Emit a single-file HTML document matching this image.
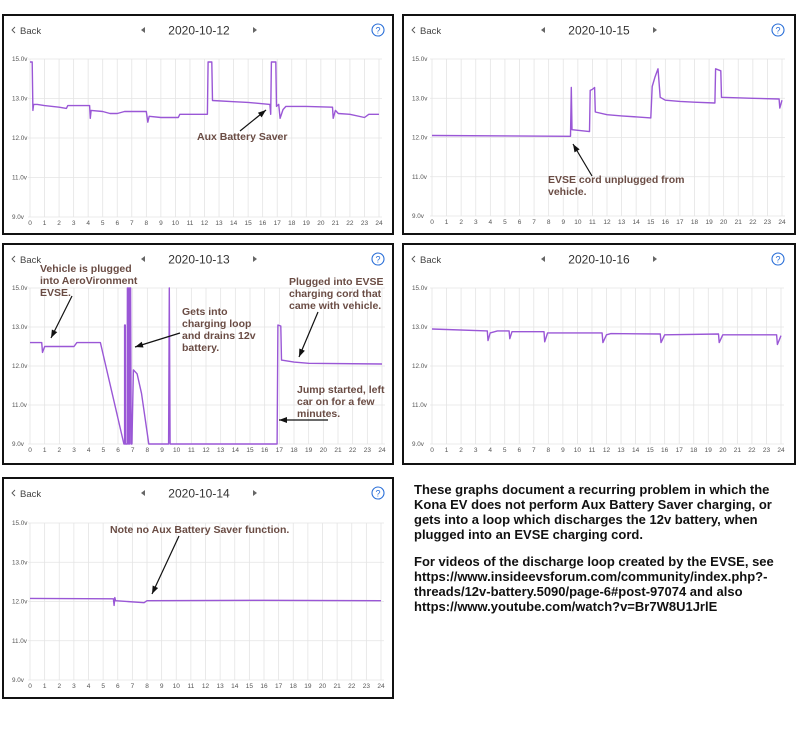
<!DOCTYPE html>
<html><head><meta charset="utf-8"><style>
html,body{margin:0;padding:0;background:#fff;width:800px;height:729px;overflow:hidden;font-family:"Liberation Sans",sans-serif}
#note{position:absolute;left:414px;top:482px;width:386px;font-weight:bold;font-size:13px;line-height:15px;color:#111;white-space:nowrap}
#note p{margin:0 0 12px 0}
</style></head><body>
<svg id="s" width="800" height="729" style="position:absolute;left:0;top:0"></svg>
<div id="note">
<p>These graphs document a recurring problem in which the<br>Kona EV does not perform Aux Battery Saver charging, or<br>gets into a loop which discharges the 12v battery, when<br>plugged into an EVSE charging cord.</p>
<p>For videos of the discharge loop created by the EVSE, see<br>https://www.insideevsforum.com/community/index.php?-<br>threads/12v-battery.5090/page-6#post-97074 and also<br>https://www.youtube.com/watch?v=Br7W8U1JrlE</p>
</div>
<script>
const yTicks=["15.0v","13.0v","12.0v","11.0v","9.0v"];
const yTickVals=[15,13,12,11,9];
const xTicks=[0,1,2,3,4,5,6,7,8,9,10,11,12,13,14,15,16,17,18,19,20,21,22,23,24];
const dates=["2020-10-12","2020-10-15","2020-10-13","2020-10-16","2020-10-14"];
const p1Hours=[0,0.15,0.2,0.25,0.5,1,2,2.5,2.6,4.1,4.15,4.2,5,5.5,6,6.5,8,8.1,8.2,9,10.2,10.3,12.2,12.25,12.5,12.55,14,15,16.5,16.55,16.6,16.9,16.95,17.1,17.2,17.4,17.6,19,20.8,20.85,21,21.2,22,23,23.3,24];
const p1Volts=[14.85,14.85,12.7,12.85,12.85,12.82,12.78,12.75,12.82,12.82,12.5,12.7,12.67,12.62,12.62,12.67,12.67,12.4,12.55,12.52,12.52,12.6,12.6,14.85,14.85,12.95,12.92,12.9,12.85,12.6,14.85,14.85,12.8,12.85,12.5,12.72,12.8,12.8,12.78,12.5,12.7,12.62,12.6,12.52,12.6,12.6];
const p2Hours=[0,9.5,9.55,9.6,10.8,10.85,11.0,11.15,11.2,12,13,15,15.1,15.3,15.5,15.65,16,17,18,19.4,19.45,19.8,19.85,22,23.8,23.85,24];
const p2Volts=[12.05,12.03,13.55,12.2,12.15,13.4,13.45,13.55,12.65,12.58,12.55,12.5,13.6,14.1,14.5,13.05,12.95,12.92,12.9,12.88,14.5,14.4,13.05,13.0,12.98,12.75,12.95];
const p3Hours=[0,0.8,0.85,1,3,3.2,4.8,6.4,6.45,6.45,6.5,6.5,6.62,6.64,6.68,6.7,6.74,6.76,6.8,6.82,6.86,6.9,6.95,7.05,7.3,7.6,8.1,9.45,9.5,9.55,16.85,16.9,17.1,17.15,18,19,24];
const p3Volts=[12.6,12.6,12.35,12.5,12.5,12.6,12.6,9,9,13.1,13.1,9,9,15,9,15,9,15,9,15,15,9,9,11.9,11.8,11.3,9,9,15,9,9,13.1,13.05,12.15,12.1,12.07,12.05];
const p4Hours=[0,3.8,3.85,4,4.5,5.3,5.35,5.5,7.7,7.75,7.95,11.7,11.75,12,12.3,15.7,15.75,16,19.7,19.75,20,23.7,23.75,24];
const p4Volts=[12.95,12.9,12.65,12.85,12.9,12.9,12.7,12.88,12.88,12.62,12.85,12.85,12.6,12.8,12.83,12.82,12.6,12.8,12.82,12.6,12.8,12.8,12.55,12.78];
const p5Hours=[0,5.7,5.75,5.8,5.85,7.8,8,16,24];
const p5Volts=[12.08,12.07,11.9,12.1,12.02,11.97,12.02,12.03,12.02];

const NS="http://www.w3.org/2000/svg";
const svg=document.getElementById('s');
function mk(tag,attrs,parent,text){const e=document.createElementNS(NS,tag);for(const k in attrs)e.setAttribute(k,attrs[k]);if(text!==undefined)e.textContent=text;(parent||svg).appendChild(e);return e;}
const panels=[
 {box:[3,15,390,219],x0:30,x1:379,y0:59,y1:217,h:p1Hours,v:p1Volts},
 {box:[403,15,392,219],x0:432,x1:782,y0:59,y1:216,h:p2Hours,v:p2Volts},
 {box:[3,244,390,220],x0:30,x1:382,y0:288,y1:444,h:p3Hours,v:p3Volts},
 {box:[403,244,392,220],x0:432,x1:781,y0:288,y1:444,h:p4Hours,v:p4Volts},
 {box:[3,478,390,220],x0:30,x1:381,y0:523,y1:680,h:p5Hours,v:p5Volts}
];
function yIndex(v){for(let i=0;i<yTickVals.length-1;i++){const a=yTickVals[i],b=yTickVals[i+1];if(v<=a&&v>=b)return i+(a-v)/(a-b);}return v>15?0:4;}
panels.forEach((p,pi)=>{
 const g=mk('g',{});
 
 
 const [bx,by,bw,bh]=p.box;
 const r=mk('rect',{x:bx,y:by,width:bw,height:bh,fill:'#fff',stroke:'#111','stroke-width':2},g);
 
 const hy=by+15;
 const back=mk('text',{x:bx+17,y:hy+4,'font-size':9.5,fill:'#444'},g,'Back');
 
 mk('path',{d:`M${bx+12} ${hy-3} L${bx+9} ${hy} L${bx+12} ${hy+3}`,fill:'none',stroke:'#555','stroke-width':0.9},g);
 const cx=bx+194;
 const prev=mk('path',{d:`M${cx-52} ${hy-3} L${cx-56} ${hy} L${cx-52} ${hy+3}Z`,fill:'#666'},g);
 
 const next=mk('path',{d:`M${cx+56} ${hy-3} L${cx+60} ${hy} L${cx+56} ${hy+3}Z`,fill:'#666'},g);
 
 const t=mk('text',{x:cx+2,y:hy+4.5,'font-size':12,fill:'#333','text-anchor':'middle'},g,dates[pi]);
 
 const hc=mk('circle',{cx:bx+375,cy:hy,r:6,fill:'none',stroke:'#2a6fd8','stroke-width':1.1},g);
 
 mk('text',{x:bx+375,y:hy+3.5,'font-size':9,fill:'#2a6fd8','text-anchor':'middle'},g,'?');
 const xs=h=>p.x0+(p.x1-p.x0)*h/24;
 const ys=v=>p.y0+(p.y1-p.y0)*yIndex(v)/4;
 xTicks.forEach(h=>{
  const l=mk('line',{x1:xs(h),x2:xs(h),y1:p.y0,y2:p.y1,stroke:'#e4e4e4','stroke-width':0.8},g);
  
  const tl=mk('text',{x:xs(h),y:p.y1+8,'font-size':6.5,fill:'#555','text-anchor':'middle'},g,String(h));
  
 });
 yTickVals.forEach((v,i)=>{
  const l=mk('line',{x1:p.x0-2,x2:p.x1+3,y1:ys(v),y2:ys(v),stroke:'#e4e4e4','stroke-width':0.8},g);
  
  const tl=mk('text',{x:bx+9,y:ys(v)+2,'font-size':6.3,fill:'#555'},g,yTicks[i]);
  
 });
 const d=p.h.map((h,i)=>(i?'L':'M')+xs(h).toFixed(1)+' '+ys(p.v[i]).toFixed(1)).join(' ');
 const line=mk('path',{d:d,fill:'none',stroke:'#9a57d6','stroke-width':1.4,'stroke-linejoin':'round'},g);
 
});
const ann=[
 [197,140,["Aux Battery Saver"],[240,131,266,110]],
 [548,183,["EVSE cord unplugged from","vehicle."],[592,176,573,144]],
 [40,272,["Vehicle is plugged","into AeroVironment","EVSE."],[72,296,51,338]],
 [182,315,["Gets into","charging loop","and drains 12v","battery."],[180,333,135,347]],
 [289,285,["Plugged into EVSE","charging cord that","came with vehicle."],[318,312,299,357]],
 [297,393,["Jump started, left","car on for a few","minutes."],[328,420,279,420]],
 [110,533,["Note no Aux Battery Saver function."],[179,536,152,594]]
];
ann.forEach(a=>{
 const g=mk('g',{});
 
 
 a[2].forEach((s,i)=>mk('text',{x:a[0],y:a[1]+i*12,'font-size':10.5,'font-weight':'bold',fill:'#6a4c44'},g,s));
 const [x1,y1,x2,y2]=a[3];
 mk('line',{x1:x1,y1:y1,x2:x2,y2:y2,stroke:'#111','stroke-width':1.2},g);
 const ang=Math.atan2(y2-y1,x2-x1),L=8,W=3;
 const bxp=x2-L*Math.cos(ang),byp=y2-L*Math.sin(ang);
 mk('path',{d:`M${x2} ${y2} L${bxp-W*Math.sin(ang)} ${byp+W*Math.cos(ang)} L${bxp+W*Math.sin(ang)} ${byp-W*Math.cos(ang)}Z`,fill:'#111'},g);
});
</script>
</body></html>
